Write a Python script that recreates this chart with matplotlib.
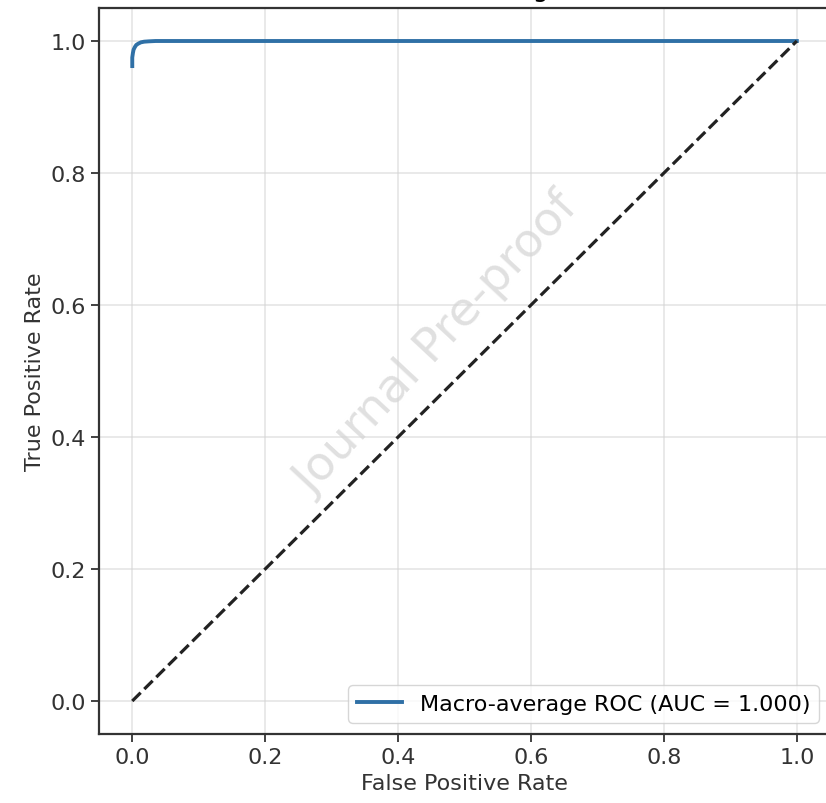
import numpy as np
import matplotlib
matplotlib.use("Agg")
import matplotlib.pyplot as plt

# macro-average ROC curve points
fpr = [0.0, 0.0, 0.001, 0.002, 0.004, 0.006, 0.009, 0.013, 0.018, 0.025, 0.035, 0.05, 0.1, 0.3, 0.6, 1.0]
tpr = [0.962, 0.975, 0.982, 0.987, 0.991, 0.994, 0.996, 0.998, 0.999, 0.9995, 1.0, 1.0, 1.0, 1.0, 1.0, 1.0]
roc_auc = 1.000

chance = [0, 1]

plt.rcParams["font.size"] = 17

fig = plt.figure(figsize=(8.26, 8.04), dpi=100)
ax = fig.add_axes([0.1199, 0.0858, 0.885, 0.903])

ax.plot(fpr, tpr, color="#2f70a6", lw=2.8,
        label="Macro-average ROC (AUC = %.3f)" % roc_auc)
ax.plot(chance, chance, "k--", lw=2.3, color="#222222")

ax.set_xlabel("False Positive Rate", fontsize=16, color="#333333")
ax.set_ylabel("True Positive Rate", fontsize=16, color="#333333")
# title sits above the cropped top edge, only a descender shows
ax.set_title("ROC - Testing", fontsize=18, pad=8.5)
ax.grid(True, color="#d5d5d5", alpha=0.6, lw=1.2)
ax.set_xticks([0.0, 0.2, 0.4, 0.6, 0.8, 1.0])
ax.set_yticks([0.0, 0.2, 0.4, 0.6, 0.8, 1.0])
ax.tick_params(labelsize=16, length=6, width=1.3, colors="#333333")
for s in ax.spines.values():
    s.set_linewidth(1.6)
    s.set_color("#333333")

leg = ax.legend(loc="lower right", fontsize=16, fancybox=True, framealpha=0.8)
leg.get_frame().set_edgecolor("#cccccc")

# watermark
ax.text(0.462, 0.537, "Journal Pre-proof", transform=ax.transAxes, fontsize=34,
        color="#e0e0e0", rotation=47, ha="center", va="center", zorder=0)

fig.savefig("out.png", dpi=100)
